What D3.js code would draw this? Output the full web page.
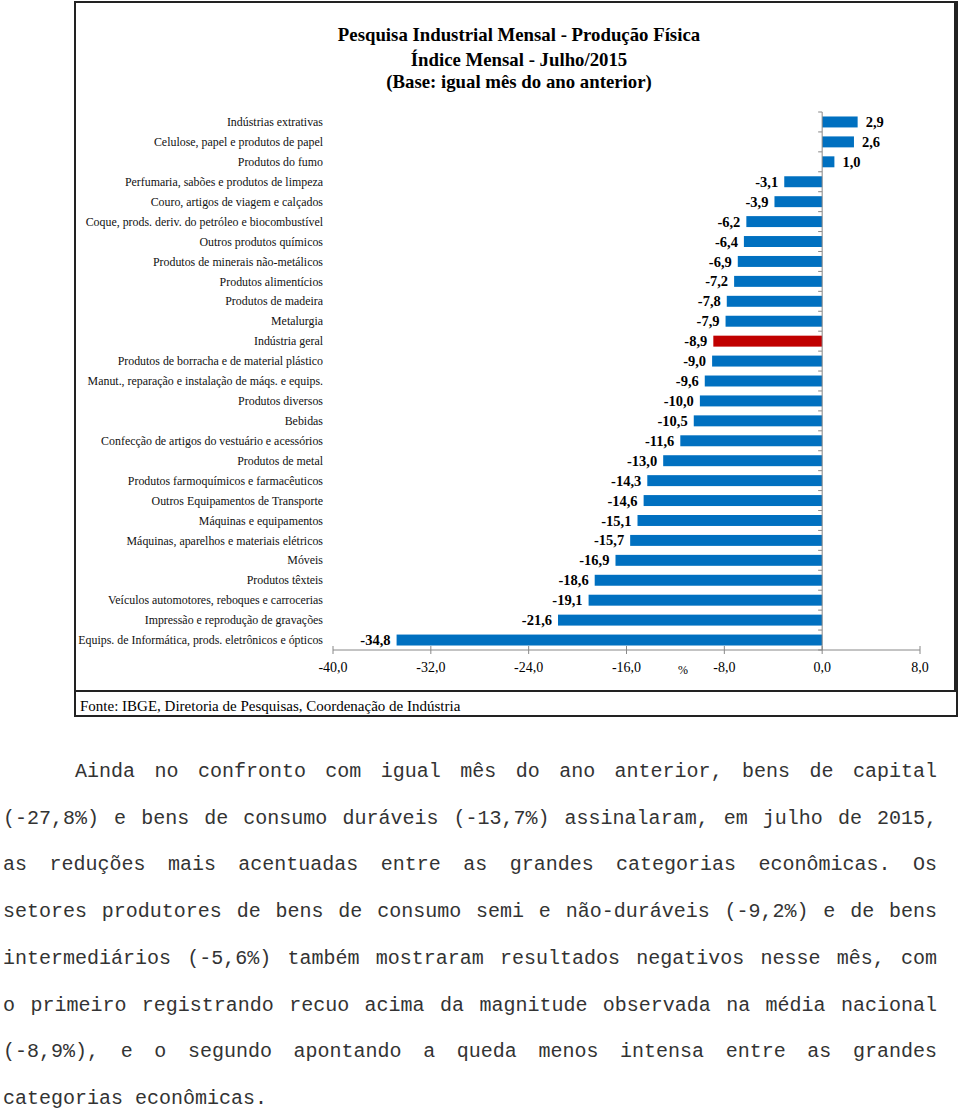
<!DOCTYPE html>
<html><head><meta charset="utf-8">
<script src="https://cdn.jsdelivr.net/npm/d3@7/dist/d3.min.js"></script>
<style>body{margin:0;background:#fff}svg{display:block}</style>
</head><body>
<script>
const categories = [
 "Indústrias extrativas","Celulose, papel e produtos de papel","Produtos do fumo",
 "Perfumaria, sabões e produtos de limpeza","Couro, artigos de viagem e calçados",
 "Coque, prods. deriv. do petróleo e biocombustível","Outros produtos químicos",
 "Produtos de minerais não-metálicos","Produtos alimentícios","Produtos de madeira",
 "Metalurgia","Indústria geral","Produtos de borracha e de material plástico",
 "Manut., reparação e instalação de máqs. e equips.","Produtos diversos","Bebidas",
 "Confecção de artigos do vestuário e acessórios","Produtos de metal",
 "Produtos farmoquímicos e farmacêuticos","Outros Equipamentos de Transporte",
 "Máquinas e equipamentos","Máquinas, aparelhos e materiais elétricos","Móveis",
 "Produtos têxteis","Veículos automotores, reboques e carrocerias",
 "Impressão e reprodução de gravações","Equips. de Informática, prods. eletrônicos e ópticos"];
const values = [2.9,2.6,1.0,-3.1,-3.9,-6.2,-6.4,-6.9,-7.2,-7.8,-7.9,-8.9,-9.0,-9.6,-10.0,-10.5,-11.6,-13.0,-14.3,-14.6,-15.1,-15.7,-16.9,-18.6,-19.1,-21.6,-34.8];
const highlight = ["Indústria geral"];
const xTicks = [-40,-32,-24,-16,-8,0,8];
const titleLines = ["Pesquisa Industrial Mensal - Produção Física","Índice Mensal - Julho/2015","(Base: igual mês do ano anterior)"];
const sourceText = "Fonte: IBGE, Diretoria de Pesquisas, Coordenação de Indústria";
const paragraphLines = [
 "Ainda no confronto com igual mês do ano anterior, bens de capital",
 "(-27,8%) e bens de consumo duráveis (-13,7%) assinalaram, em julho de 2015,",
 "as reduções mais acentuadas entre as grandes categorias econômicas. Os",
 "setores produtores de bens de consumo semi e não-duráveis (-9,2%) e de bens",
 "intermediários (-5,6%) também mostraram resultados negativos nesse mês, com",
 "o primeiro registrando recuo acima da magnitude observada na média nacional",
 "(-8,9%), e o segundo apontando a queda menos intensa entre as grandes",
 "categorias econômicas."];

const W=960,H=1111;
const svg=d3.select("body").append("svg").attr("width",W).attr("height",H);
svg.append("rect").attr("width",W).attr("height",H).attr("fill","#fff");
const serif="'Liberation Serif', serif";
const fmt=v=>d3.format(".1f")(v).replace(".",",").replace("−","-");

// frames
svg.append("rect").attr("x",75).attr("y",2).attr("width",882).attr("height",714)
  .attr("fill","none").attr("stroke","#222").attr("stroke-width",2);
svg.append("path").attr("d","M75,691H955V2").attr("fill","none").attr("stroke","#222").attr("stroke-width",2);

// title
svg.append("g").selectAll("text").data(titleLines).join("text")
  .attr("x",519).attr("y",(d,i)=>[41,66,88][i]).attr("text-anchor","middle")
  .attr("font-family",serif).attr("font-weight","bold").attr("font-size",18.8).attr("fill","#000").text(d=>d);

const x=d3.scaleLinear().domain([-40,8]).range([333,920]);
const y=d3.scaleBand().domain(categories).range([112,650]).paddingInner(0.45).paddingOuter(0.225);

// bars
svg.append("g").selectAll("rect").data(values).join("rect")
  .attr("x",d=>x(Math.min(0,d))).attr("width",d=>Math.abs(x(d)-x(0)))
  .attr("y",(d,i)=>y(categories[i])).attr("height",y.bandwidth())
  .attr("fill",(d,i)=>highlight.includes(categories[i])?"#C00000":"#0070C0");

// value labels
svg.append("g").selectAll("text").data(values).join("text")
  .attr("x",d=>d<0?x(d)-6:x(d)+8).attr("text-anchor",d=>d<0?"end":"start")
  .attr("y",(d,i)=>y(categories[i])+y.bandwidth()/2).attr("dy","0.35em")
  .attr("font-family",serif).attr("font-weight","bold").attr("font-size",14.5).attr("fill","#000")
  .text(fmt);

// category labels
svg.append("g").selectAll("text").data(categories).join("text")
  .attr("x",323).attr("y",d=>y(d)+y.bandwidth()/2).attr("dy","0.35em").attr("text-anchor","end")
  .attr("font-family",serif).attr("font-size",11.9).attr("fill","#111").text(d=>d);

// vertical axis at 0
const yAx=svg.append("g");
yAx.append("line").attr("x1",x(0)).attr("x2",x(0)).attr("y1",112).attr("y2",650).attr("stroke","#888");
yAx.selectAll("line.t").data(d3.range(categories.length+1)).join("line").attr("class","t")
  .attr("x1",x(0)-4).attr("x2",x(0)).attr("y1",i=>112+i*(538/categories.length)).attr("y2",i=>112+i*(538/categories.length))
  .attr("stroke","#888");

// x axis
const xAx=svg.append("g");
xAx.append("line").attr("x1",x(-40)).attr("x2",x(8)).attr("y1",650).attr("y2",650).attr("stroke","#888");
xAx.selectAll("line.t").data(xTicks).join("line").attr("class","t")
  .attr("x1",d=>x(d)).attr("x2",d=>x(d)).attr("y1",646).attr("y2",654).attr("stroke","#888");
xAx.selectAll("text").data(xTicks).join("text")
  .attr("x",d=>x(d)).attr("y",672).attr("text-anchor","middle")
  .attr("font-family",serif).attr("font-size",14).attr("fill","#000").text(fmt);
svg.append("text").attr("x",683).attr("y",674).attr("text-anchor","middle")
  .attr("font-family",serif).attr("font-size",12).attr("fill","#000").text("%");

// source
svg.append("text").attr("x",80).attr("y",711).attr("font-family",serif).attr("font-size",15).attr("fill","#000").text(sourceText);

// paragraph (justified monospace)
const mono="'Liberation Mono', monospace";
const pg=svg.append("g").attr("font-family",mono).attr("font-size",20).attr("fill","#333");
paragraphLines.forEach((line,li)=>{
  const yy=777+li*46.7;
  const x0=li===0?75:3, x1=937;
  const words=line.split(" ");
  const last=li===paragraphLines.length-1;
  const tmp=words.map(w=>{const t=pg.append("text").attr("y",yy).text(w);return {t,w:t.node().getComputedTextLength()};});
  const total=d3.sum(tmp,d=>d.w);
  const gap=last?12:(x1-x0-total)/(words.length-1);
  let cx=x0;
  tmp.forEach(d=>{d.t.attr("x",cx);cx+=d.w+gap;});
});
</script>
</body></html>
